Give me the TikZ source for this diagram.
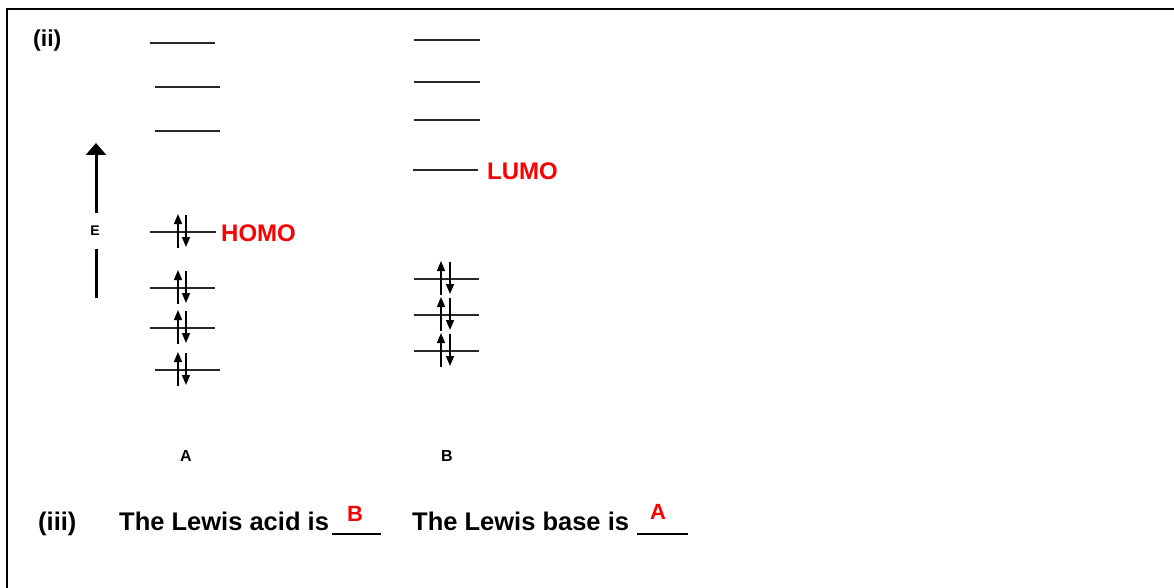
\documentclass[tikz,border=0pt]{standalone}
\usepackage{fontspec}
\setmainfont{Liberation Sans}
\usetikzlibrary{arrows.meta}
\definecolor{lvl}{RGB}{40,40,40}
\definecolor{ansred}{RGB}{250,0,0}
\tikzset{
  level/.style={draw=lvl, line width=2pt},
  eup/.style={draw=black, line width=1.6pt, -{Triangle[length=10pt,width=8pt]}},
  lbl/.style={font=\fontsize{25.5}{25.5}\selectfont\bfseries, inner sep=0pt, anchor=base west},
  redlbl/.style={font=\fontsize{24}{24}\selectfont\bfseries, text=ansred, inner sep=0pt},
  small/.style={font=\fontsize{16}{16}\selectfont\bfseries, inner sep=0pt},
  blank/.style={draw=black, line width=1.6pt},
}
\begin{document}
\begin{tikzpicture}[x=1pt,y=-1pt]
\useasboundingbox (0,0) rectangle (1174,588);
% frame
\coordinate (f1) at (7,588);
\coordinate (f2) at (7,9);
\coordinate (f3) at (1174,9);
\draw[line width=2.5pt] (f1) -- (f2) -- (f3);

\node[lbl, font=\fontsize{23}{23}\selectfont\bfseries] (ii) at (33,47) {(ii)};

% energy axis
\coordinate (et) at (96,143);
\coordinate (eb) at (96,213);
\coordinate (lt) at (96,249);
\coordinate (lb) at (96,298);
\draw[line width=3pt, -{Triangle[length=12pt,width=20pt]}] (eb) -- (et);
\draw[line width=3pt] (lt) -- (lb);
\node[small, font=\fontsize{14}{14}\selectfont\bfseries] (E) at (95,231) {E};

% column A levels
\foreach \n/\xa/\xb/\y in {a1/150/215/43, a2/155/220/87, a3/155/220/131, a4/150/216/232, a5/150/215/288, a6/150/215/328, a7/155/220/370}{
  \coordinate (\n l) at (\xa,\y);
  \coordinate (\n r) at (\xb,\y);
  \draw[level] (\n l) -- (\n r);
}
% electrons A
\foreach \y in {232,288,328,370}{
  \coordinate (u1) at (178,\y+16);
  \coordinate (u2) at (178,\y-18);
  \coordinate (d1) at (186,\y-17);
  \coordinate (d2) at (186,\y+15);
  \draw[eup] (u1) -- (u2);
  \draw[eup] (d1) -- (d2);
}
\node[redlbl, anchor=base west] (homo) at (221,241) {HOMO};

% column B levels
\foreach \n/\xa/\xb/\y in {b1/414/480/40, b2/414/480/82, b3/414/480/120, b4/413/478/170, b5/414/479/279, b6/414/479/315, b7/414/479/351}{
  \coordinate (\n l) at (\xa,\y);
  \coordinate (\n r) at (\xb,\y);
  \draw[level] (\n l) -- (\n r);
}
\foreach \y in {279,315,351}{
  \coordinate (u1) at (441,\y+16);
  \coordinate (u2) at (441,\y-18);
  \coordinate (d1) at (450,\y-17);
  \coordinate (d2) at (450,\y+15);
  \draw[eup] (u1) -- (u2);
  \draw[eup] (d1) -- (d2);
}
\node[redlbl, anchor=base west] (lumo) at (487,179) {LUMO};

\node[small] (A) at (186,456) {A};
\node[small] (B) at (447,456) {B};

% part (iii)
\node[lbl] (iii) at (38,530) {(iii)};
\node[lbl] (acid) at (119,530) {The Lewis acid is};
\coordinate (bl1) at (332,534);
\coordinate (bl2) at (381,534);
\draw[blank] (bl1) -- (bl2);
\node[lbl] (base) at (412,530) {The Lewis base is};
\coordinate (bl3) at (637,534);
\coordinate (bl4) at (688,534);
\draw[blank] (bl3) -- (bl4);
\node[redlbl, font=\fontsize{22}{22}\selectfont\bfseries, anchor=base] (ansB) at (355,521) {B};
\node[redlbl, font=\fontsize{22}{22}\selectfont\bfseries, anchor=base] (ansA) at (658,519) {A};
\end{tikzpicture}
\end{document}
